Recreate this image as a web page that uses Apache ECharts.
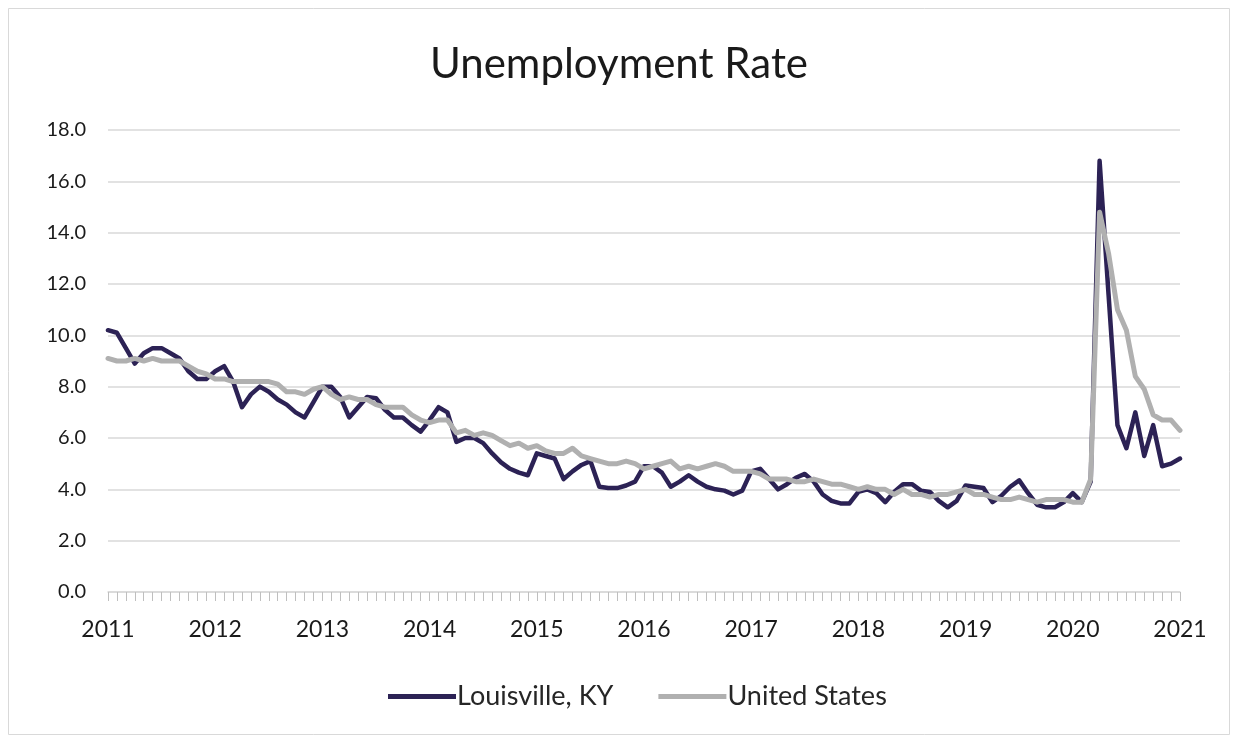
<!DOCTYPE html>
<html>
<head>
<meta charset="utf-8">
<script src="https://cdn.jsdelivr.net/npm/echarts@6/dist/echarts.min.js"></script>
<style>
html,body{margin:0;padding:0;background:#fff;}
#chart{width:1238px;height:738px;}
</style>
</head>
<body>
<div id="chart"></div>
<script>
const years = [2011, 2012, 2013, 2014, 2015, 2016, 2017, 2018, 2019, 2020, 2021];
const yTicks = [0, 2, 4, 6, 8, 10, 12, 14, 16, 18];

const louisville = [
  10.2, 10.1, 9.5, 8.9, 9.3, 9.5, 9.5, 9.3, 9.1, 8.6, 8.3, 8.3,
  8.6, 8.8, 8.2, 7.2, 7.7, 8.0, 7.8, 7.5, 7.3, 7.0, 6.8, 7.4,
  8.0, 8.0, 7.6, 6.8, 7.2, 7.6, 7.55, 7.1, 6.8, 6.8, 6.5, 6.25,
  6.7, 7.2, 7.0, 5.85, 6.0, 6.0, 5.8, 5.4, 5.05, 4.8, 4.65, 4.55,
  5.4, 5.3, 5.2, 4.4, 4.7, 4.95, 5.1, 4.1, 4.05, 4.05, 4.15, 4.3,
  4.9, 4.9, 4.65, 4.1, 4.3, 4.55, 4.3, 4.1, 4.0, 3.95, 3.8, 3.95,
  4.7, 4.8, 4.4, 4.0, 4.2, 4.45, 4.6, 4.3, 3.8, 3.55, 3.45, 3.45,
  3.9, 4.0, 3.85, 3.5, 3.9, 4.2, 4.2, 3.95, 3.9, 3.55, 3.3, 3.55,
  4.15, 4.1, 4.05, 3.5, 3.75, 4.1, 4.35, 3.85, 3.4, 3.3, 3.3, 3.5,
  3.85, 3.5, 4.3, 16.8, 11.6, 6.5, 5.6, 7.0, 5.3, 6.5, 4.9, 5.0,
  5.2
];

const unitedStates = [
  9.1, 9.0, 9.0, 9.1, 9.0, 9.1, 9.0, 9.0, 9.0, 8.8, 8.6, 8.5,
  8.3, 8.3, 8.2, 8.2, 8.2, 8.2, 8.2, 8.1, 7.8, 7.8, 7.7, 7.9,
  8.0, 7.7, 7.5, 7.6, 7.5, 7.5, 7.3, 7.2, 7.2, 7.2, 6.9, 6.7,
  6.6, 6.7, 6.7, 6.2, 6.3, 6.1, 6.2, 6.1, 5.9, 5.7, 5.8, 5.6,
  5.7, 5.5, 5.4, 5.4, 5.6, 5.3, 5.2, 5.1, 5.0, 5.0, 5.1, 5.0,
  4.8, 4.9, 5.0, 5.1, 4.8, 4.9, 4.8, 4.9, 5.0, 4.9, 4.7, 4.7,
  4.7, 4.6, 4.4, 4.4, 4.4, 4.3, 4.3, 4.4, 4.3, 4.2, 4.2, 4.1,
  4.0, 4.1, 4.0, 4.0, 3.8, 4.0, 3.8, 3.8, 3.7, 3.8, 3.8, 3.9,
  4.0, 3.8, 3.8, 3.7, 3.6, 3.6, 3.7, 3.6, 3.5, 3.6, 3.6, 3.6,
  3.5, 3.5, 4.4, 14.8, 13.2, 11.0, 10.2, 8.4, 7.9, 6.9, 6.7, 6.7,
  6.3
];

// monthly categories Jan 2011 .. Jan 2021
const categories = [];
years.forEach((y, idx) => {
  const nMonths = idx === years.length - 1 ? 1 : 12;
  for (let m = 1; m <= nMonths; m++) categories.push(y + '-' + (m < 10 ? '0' + m : m));
});

const chart = echarts.init(document.getElementById('chart'), null, {renderer: 'canvas'});
const font = 'Lato, "Open Sans", "DejaVu Sans", sans-serif';

chart.setOption({
  backgroundColor: '#ffffff',
  animation: false,
  graphic: [{
    type: 'rect',
    shape: {x: 8.5, y: 8.5, width: 1221, height: 726},
    style: {fill: 'none', stroke: '#d9d9d9', lineWidth: 1},
    silent: true
  }],
  title: {
    text: 'Unemployment Rate',
    left: 'center',
    top: 38,
    textStyle: {fontFamily: font, fontSize: 42, fontWeight: 'normal', color: '#1a1a1a'}
  },
  legend: {
    bottom: 23,
    left: 383,
    itemGap: 45,
    itemWidth: 68,
    itemHeight: 5,
    icon: 'rect',
    textStyle: {fontFamily: font, fontSize: 27, color: '#262626', padding: [0, 0, 0, -4]},
    data: ['Louisville, KY', 'United States']
  },
  grid: {left: 108, right: 58, top: 130, bottom: 146, containLabel: false},
  xAxis: {
    type: 'category',
    data: categories,
    boundaryGap: false,
    axisLine: {lineStyle: {color: '#d9d9d9', width: 1.5}},
    axisTick: {show: true, interval: 0, length: 9, lineStyle: {color: '#bfbfbf'}},
    axisLabel: {
      interval: 0,
      margin: 26,
      fontFamily: font,
      fontSize: 23,
      color: '#1a1a1a',
      formatter: v => v.endsWith('-01') ? v.slice(0, 4) : ''
    },
    splitLine: {show: false}
  },
  yAxis: {
    type: 'value',
    min: yTicks[0],
    max: yTicks[yTicks.length - 1],
    interval: 2,
    axisLine: {show: false},
    axisTick: {show: false},
    axisLabel: {
      margin: 22,
      fontFamily: font,
      fontSize: 20,
      color: '#1a1a1a',
      formatter: v => v.toFixed(1)
    },
    splitLine: {lineStyle: {color: '#d9d9d9', width: 1.5}}
  },
  series: [
    {
      name: 'Louisville, KY',
      type: 'line',
      data: louisville,
      showSymbol: false,
      symbol: 'none',
      color: '#2c2255',
      lineStyle: {width: 4.5, color: '#2c2255', join: 'round', cap: 'round'}
    },
    {
      name: 'United States',
      type: 'line',
      data: unitedStates,
      showSymbol: false,
      symbol: 'none',
      color: '#b0b0b0',
      lineStyle: {width: 5, color: '#b0b0b0', join: 'round', cap: 'round'}
    }
  ]
});
</script>
</body>
</html>
